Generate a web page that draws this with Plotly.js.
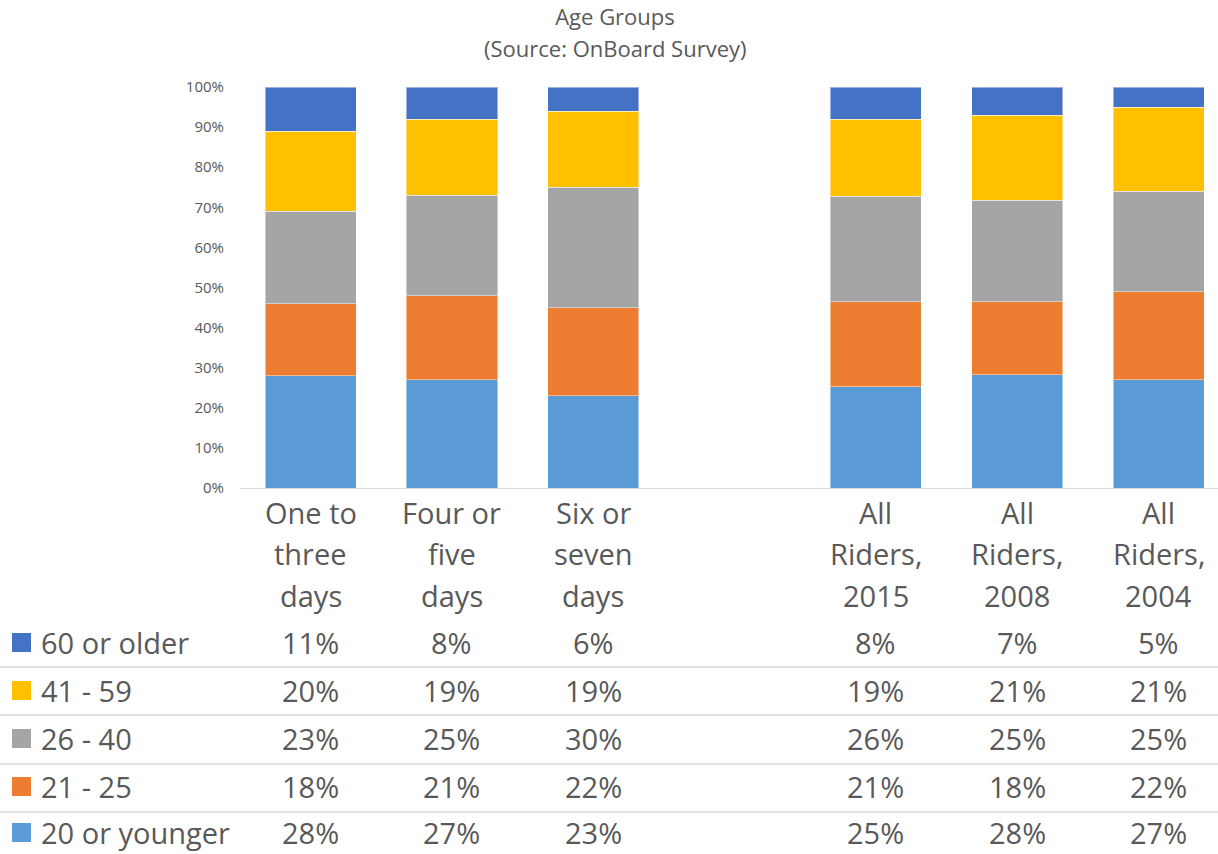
<!DOCTYPE html>
<html>
<head>
<meta charset="utf-8">
<script src="https://cdn.plot.ly/plotly-3.0.1.min.js"></script>
<style>html,body{margin:0;padding:0;background:#fff;}#chart{width:1218px;height:854px;}</style>
</head>
<body>
<div id="chart"></div>
<script>
// ---- data ----
var categories = ["One to three days", "Four or five days", "Six or seven days", " ", "All Riders, 2015", "All Riders, 2008", "All Riders, 2004"];
var categoryLines = [["One to", "three", "days"], ["Four or", "five", "days"], ["Six or", "seven", "days"], [], ["All", "Riders,", "2015"], ["All", "Riders,", "2008"], ["All", "Riders,", "2004"]];
var seriesNames = ["20 or younger", "21 - 25", "26 - 40", "41 - 59", "60 or older"];
var age20orYounger = [28, 27, 23, null, 25, 28, 27];
var age21to25      = [18, 21, 22, null, 21, 18, 22];
var age26to40      = [23, 25, 30, null, 26, 25, 25];
var age41to59      = [20, 19, 19, null, 19, 21, 21];
var age60orOlder   = [11, 8, 6, null, 8, 7, 5];
var yTickVals = [0, 10, 20, 30, 40, 50, 60, 70, 80, 90, 100];
var yTickText = ["0%", "10%", "20%", "30%", "40%", "50%", "60%", "70%", "80%", "90%", "100%"];
var titleLines = ["Age Groups", "(Source: OnBoard Survey)"];

// ---- styling ----
var colors = ["#5B9BD5", "#ED7D31", "#A5A5A5", "#FFC000", "#4472C4"];
var seriesValues = [age20orYounger, age21to25, age26to40, age41to59, age60orOlder];
var textColor = "#595959";
var fontFamily = "'Open Sans', 'Noto Sans', sans-serif";
var bigSize = 29;

var traces = seriesValues.map(function (vals, i) {
  return {
    type: "bar",
    name: seriesNames[i],
    x: categories,
    y: vals,
    marker: { color: colors[i], line: { color: "rgba(255,255,255,0.45)", width: 1 } },
    hoverinfo: "name+y"
  };
});

// plot geometry in pixels (for paper conversions of table layout)
var W = 1218, H = 854, mL = 240, mT = 87, plotH = 401;
var mB = H - mT - plotH;
function py(pix) { return (mT + plotH - pix) / plotH; }
function px(pix) { return (pix - mL) / (W - mL); }

var annotations = [];
var shapes = [];

// second title line
annotations.push({
  xref: "paper", yref: "paper", x: px(615), y: py(48),
  text: titleLines[1], showarrow: false, xanchor: "center", yanchor: "middle",
  font: { family: fontFamily, size: 22, color: textColor }
});

// category labels (three lines each)
var lineY = [512, 553, 595];
categoryLines.forEach(function (lines, ci) {
  lines.forEach(function (t, li) {
    annotations.push({
      xref: "x", yref: "paper", x: categories[ci], y: py(lineY[li]),
      text: t, showarrow: false, xanchor: "center", yanchor: "middle",
      font: { family: fontFamily, size: bigSize, color: textColor }
    });
  });
});

// data table (top row = 60 or older)
var rowY = [642, 690, 738, 786, 832];
var sepY = [667, 715, 764, 812];
for (var r = 0; r < 5; r++) {
  var si = 4 - r;
  var y = py(rowY[r]);
  shapes.push({
    type: "rect", xref: "paper", yref: "paper",
    x0: px(12), x1: px(31), y0: py(rowY[r] + 10), y1: py(rowY[r] - 9),
    fillcolor: colors[si], line: { width: 0 }
  });
  annotations.push({
    xref: "paper", yref: "paper", x: px(39), y: y,
    text: seriesNames[si], showarrow: false, xanchor: "left", yanchor: "middle",
    font: { family: fontFamily, size: bigSize, color: textColor }
  });
  seriesValues[si].forEach(function (v, ci) {
    if (v === null) return;
    annotations.push({
      xref: "x", yref: "paper", x: categories[ci], y: y,
      text: v + "%", showarrow: false, xanchor: "center", yanchor: "middle",
      font: { family: fontFamily, size: bigSize, color: textColor }
    });
  });
}
sepY.forEach(function (s) {
  shapes.push({
    type: "line", xref: "paper", yref: "paper",
    x0: px(0), x1: 1, y0: py(s), y1: py(s),
    line: { color: "#D9D9D9", width: 1.3 }
  });
});

var layout = {
  width: W, height: H,
  margin: { l: mL, r: 0, t: mT, b: mB, pad: 0 },
  paper_bgcolor: "#fff", plot_bgcolor: "#fff",
  barmode: "stack", barnorm: "percent", bargap: 0.356,
  showlegend: false,
  title: {
    text: titleLines[0],
    x: 615 / W, xanchor: "center", y: 1 - 17 / H, yanchor: "middle",
    font: { family: fontFamily, size: 22, color: textColor }
  },
  xaxis: {
    type: "category", categoryorder: "array", categoryarray: categories,
    range: [-0.5, 6.42], showticklabels: false, ticks: "",
    showline: true, linecolor: "#D9D9D9", linewidth: 1.3,
    showgrid: false, zeroline: false, fixedrange: true
  },
  yaxis: {
    range: [0, 100], tickmode: "array", tickvals: yTickVals, ticktext: yTickText,
    showgrid: false, zeroline: false, showline: false, ticks: "",
    ticklabelstandoff: 15,
    tickfont: { family: fontFamily, size: 15, color: textColor },
    fixedrange: true
  },
  annotations: annotations,
  shapes: shapes
};

Plotly.newPlot("chart", traces, layout, { displayModeBar: false, staticPlot: true });
</script>
</body>
</html>
